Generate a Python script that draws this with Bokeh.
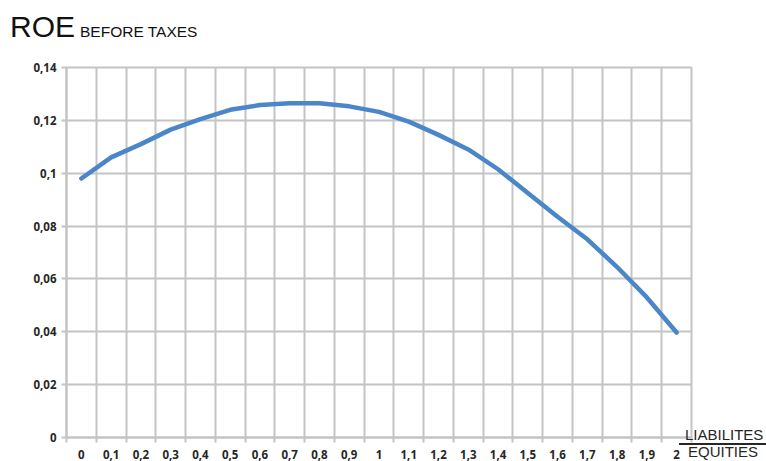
from bokeh.plotting import figure
from bokeh.models import Range1d, FixedTicker, CustomJSTickFormatter, Div
from bokeh.layouts import column, row
from bokeh.embed import file_html
from bokeh.resources import INLINE

# ---- data ----
x_labels = ["0", "0,1", "0,2", "0,3", "0,4", "0,5", "0,6", "0,7", "0,8", "0,9", "1",
            "1,1", "1,2", "1,3", "1,4", "1,5", "1,6", "1,7", "1,8", "1,9", "2"]
roe = [0.098, 0.106, 0.111, 0.1165, 0.1205, 0.124, 0.1258, 0.1265, 0.1265, 0.1253, 0.1232,
       0.1195, 0.1145, 0.109, 0.1015, 0.0925, 0.0835, 0.075, 0.0645, 0.053, 0.0397]
y_ticks = [0, 0.02, 0.04, 0.06, 0.08, 0.1, 0.12, 0.14]
y_labels = ["0", "0,02", "0,04", "0,06", "0,08", "0,1", "0,12", "0,14"]
title_main = "ROE"
title_sub = "BEFORE TAXES"
frac_top = "LIABILITES"
frac_bottom = "EQUITIES"

GRID = "#c4c4c4"
TXT = "#262626"
TITLE_H = 50
FIG_H = 411

x_idx = list(range(len(x_labels)))
boundaries = [i - 0.5 for i in range(len(x_labels) + 1)]

p = figure(width=693, height=FIG_H, output_backend="svg", toolbar_location=None,
           x_range=Range1d(-0.5, len(x_labels) - 0.5), y_range=Range1d(0, 0.14),
           min_border_left=66, min_border_right=2, min_border_top=17, min_border_bottom=23)
p.background_fill_color = "white"
p.border_fill_color = "white"
p.outline_line_color = GRID
p.outline_line_width = 2

# grids
p.xgrid.ticker = FixedTicker(ticks=boundaries)
p.xgrid.grid_line_color = GRID
p.xgrid.grid_line_width = 2
p.ygrid.ticker = FixedTicker(ticks=y_ticks)
p.ygrid.grid_line_color = GRID
p.ygrid.grid_line_width = 2

# x axis (labels at category centres, small ticks at category boundaries)
p.xaxis.ticker = FixedTicker(ticks=x_idx, minor_ticks=boundaries)
p.xaxis.major_label_overrides = {i: lab for i, lab in zip(x_idx, x_labels)}
p.xaxis.major_tick_out = 0
p.xaxis.major_tick_in = 0
p.xaxis.major_tick_line_color = None
p.xaxis.minor_tick_out = 5
p.xaxis.minor_tick_in = 0
p.xaxis.minor_tick_line_color = GRID
p.xaxis.minor_tick_line_width = 2
p.xaxis.axis_line_color = GRID
p.xaxis.axis_line_width = 2
p.xaxis.major_label_standoff = 7
p.xaxis.major_label_text_font = "Open Sans"
p.xaxis.major_label_text_font_size = "11.5px"
p.xaxis.major_label_text_font_style = "bold"
p.xaxis.major_label_text_color = TXT

# y axis
p.yaxis.ticker = FixedTicker(ticks=y_ticks)
p.yaxis.formatter = CustomJSTickFormatter(args=dict(yt=y_ticks, yl=y_labels), code="""
let best = 0;
for (let i = 0; i < yt.length; i++) {
  if (Math.abs(yt[i] - tick) < Math.abs(yt[best] - tick)) best = i;
}
return yl[best];
""")
p.yaxis.major_tick_out = 5
p.yaxis.major_tick_in = 0
p.yaxis.major_tick_line_color = GRID
p.yaxis.major_tick_line_width = 2
p.yaxis.minor_tick_line_color = None
p.yaxis.axis_line_color = GRID
p.yaxis.axis_line_width = 2
p.yaxis.major_label_standoff = 5
p.yaxis.major_label_text_font = "Open Sans"
p.yaxis.major_label_text_font_size = "11.5px"
p.yaxis.major_label_text_font_style = "bold"
p.yaxis.major_label_text_color = TXT

# series
p.line(x_idx, roe, line_color="#4a86c8", line_width=4.5, line_join="round", line_cap="round")

# title block
title_html = f"""<div style="position:relative;width:766px;height:{TITLE_H}px;font-family:'Liberation Sans',Arial,sans-serif;color:#111111;">
<span style="position:absolute;left:10px;top:12px;font-size:30px;line-height:30px;white-space:nowrap;">{title_main}</span>
<span style="position:absolute;left:80px;top:24px;font-size:15.5px;line-height:15.5px;white-space:nowrap;">{title_sub}</span>
</div>"""
title_div = Div(text=title_html, width=766, height=TITLE_H, margin=(0, 0, 0, 0))

# fraction LIABILITES / EQUITIES at the end of the x axis
frac_html = f"""<div style="position:relative;width:73px;height:{FIG_H}px;font-family:'Liberation Sans',Arial,sans-serif;color:{TXT};font-size:15px;line-height:15px;">
<span style="position:absolute;left:-8px;top:377px;white-space:nowrap;">{frac_top}</span>
<div style="position:absolute;left:-14px;top:393px;width:87px;height:1.5px;background:{TXT};"></div>
<span style="position:absolute;left:-5px;top:394px;white-space:nowrap;">{frac_bottom}</span>
</div>"""
frac_div = Div(text=frac_html, width=73, height=FIG_H, margin=(0, 0, 0, 0))

layout = column(title_div, row(p, frac_div, spacing=0), spacing=0)

open("out.html", "w").write(file_html(layout, INLINE))
